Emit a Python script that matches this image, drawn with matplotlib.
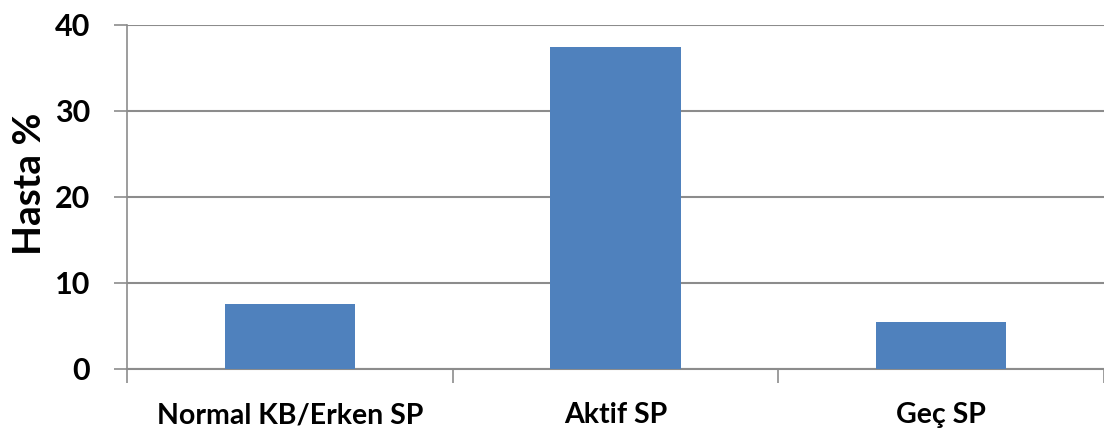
import matplotlib
matplotlib.use("Agg")
import matplotlib.pyplot as plt
from matplotlib.ticker import FixedLocator

categories = ["Normal KB/Erken SP", "Aktif SP", "Geç SP"]
values = [7.6, 37.4, 5.5]
y_ticks = [0, 10, 20, 30, 40]

plt.rcParams["font.family"] = ["Lato", "DejaVu Sans"]

fig = plt.figure(figsize=(11.04, 4.42), dpi=100)
ax = fig.add_axes([127 / 1104, 1 - 369 / 442, 1 - 127 / 1104, (369 - 25) / 442])

x = list(range(len(categories)))
ax.bar(x, values, width=0.4, color="#4F81BD", zorder=3)

ax.set_xlim(-0.5, len(categories) - 0.5)
ax.set_ylim(0, 40)

grid_color = "#8c8c8c"
ax.set_yticks(y_ticks)
ax.set_yticklabels([str(v) for v in y_ticks], fontsize=22, fontweight="bold")
ax.yaxis.grid(True, color=grid_color, linewidth=1.5, zorder=0)
ax.tick_params(axis="y", length=9.4, width=1.2, color=grid_color, pad=17)

# category boundaries carry the tick marks, centres carry the labels
ax.xaxis.set_major_locator(FixedLocator([i - 0.5 for i in range(len(categories) + 1)]))
ax.xaxis.set_minor_locator(FixedLocator(x))
ax.set_xticklabels([""] * (len(categories) + 1))
ax.set_xticklabels(categories, minor=True, fontsize=20.5, fontweight="bold")
ax.tick_params(axis="x", which="major", length=10, width=1.2, color=grid_color)
ax.tick_params(axis="x", which="minor", length=0, pad=24)

for side in ("top", "right"):
    ax.spines[side].set_visible(False)
ax.spines["left"].set_color(grid_color)
ax.spines["left"].set_linewidth(1.2)
ax.spines["bottom"].set_color(grid_color)
ax.spines["bottom"].set_linewidth(1.5)

ax.set_ylabel("Hasta %", fontsize=28, fontweight="bold")
ax.yaxis.set_label_coords(-0.082, 0.539)

fig.savefig("out.png", dpi=100, facecolor="white")
